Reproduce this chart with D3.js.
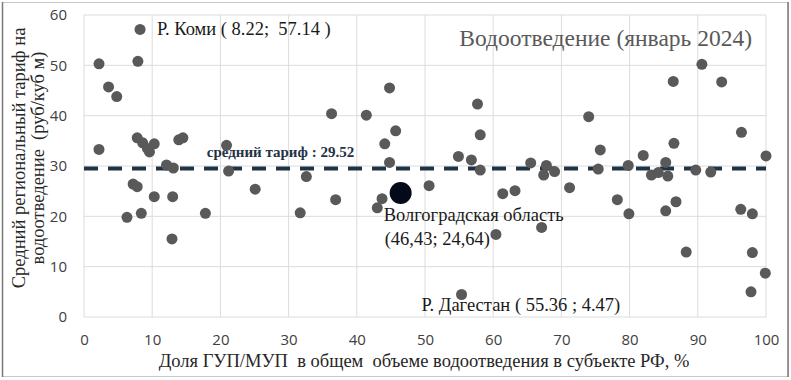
<!DOCTYPE html>
<html>
<head>
<meta charset="utf-8">
<script src="https://cdn.jsdelivr.net/npm/d3@7"></script>
<style>
  body { margin: 0; background: #fff; }
  svg { display: block; }
</style>
</head>
<body>
<div id="chart"></div>
<script>
// Share of state/municipal utilities (x, %) vs average regional tariff (y, rub/m3)
const shareGup = [2.2, 3.6, 4.8, 8.22, 7.9, 2.2, 7.8, 8.6, 9.3, 9.6, 10.3, 13.9, 14.5, 12.1, 13.1,
  20.9, 21.2, 25.1, 7.2, 7.8, 10.3, 13.0, 6.3, 8.4, 17.8, 12.9, 44.8, 36.3, 41.4, 45.7, 44.1,
  44.8, 32.6, 57.7, 58.1, 54.9, 56.8, 58.1, 50.6, 65.5, 55.36, 43.7, 43.0, 36.9, 31.7, 60.4,
  61.4, 63.2, 74.0, 75.7, 75.4, 71.2, 67.8, 67.4, 69.0, 79.8, 82.0, 83.2, 84.2, 85.3, 85.6,
  86.5, 86.4, 90.6, 93.5, 96.4, 89.7, 91.9, 100, 78.2, 79.9, 67.1, 85.3, 86.8, 88.3, 96.3,
  98.0, 98.0, 99.9, 97.8];
const tariff = [50.3, 45.7, 43.8, 57.14, 50.8, 33.3, 35.6, 34.6, 33.5, 32.8, 34.4, 35.2, 35.6, 30.2, 29.6,
  34.1, 29.0, 25.4, 26.4, 25.9, 23.9, 23.9, 19.8, 20.6, 20.6, 15.5, 45.5, 40.4, 40.1, 37.0, 34.4,
  30.7, 27.9, 42.3, 36.2, 31.9, 31.2, 29.2, 26.1, 30.6, 4.47, 23.5, 21.7, 23.3, 20.7, 16.4,
  24.5, 25.1, 39.8, 33.2, 29.4, 25.7, 30.1, 28.2, 28.9, 30.1, 32.1, 28.2, 28.7, 30.7, 28.0,
  34.5, 46.8, 50.2, 46.7, 36.7, 29.2, 28.8, 32.0, 23.3, 20.5, 17.8, 21.1, 22.9, 12.9, 21.4,
  20.5, 12.8, 8.7, 5.0];

const highlight = { name: "Волгоградская область", x: 46.43, y: 24.64, label: "(46,43; 24,64)" };
const meanTariff = 29.52;

const xTicks = [0, 10, 20, 30, 40, 50, 60, 70, 80, 90, 100];
const yTicks = [0, 10, 20, 30, 40, 50, 60];

const points = shareGup.map((x, i) => ({ x, y: tariff[i] }));

const width = 791, height = 380;
const margin = { top: 15, right: 25, bottom: 63, left: 84 };
const serif = "'Liberation Serif', 'Times New Roman', serif";
const sans = "'Open Sans', 'Liberation Sans', sans-serif";

const svg = d3.select("#chart").append("svg")
  .attr("width", width)
  .attr("height", height);

// outer frame
svg.append("rect")
  .attr("x", 2.5).attr("y", 2.5)
  .attr("width", width - 5).attr("height", height - 6)
  .attr("fill", "#fff")
  .attr("stroke", "#c8c8c8");
svg.append("line").attr("x1", 2.5).attr("x2", 2.5).attr("y1", 2).attr("y2", height - 3)
  .attr("stroke", "#7a7a7a").attr("stroke-width", 1.5);
svg.append("line").attr("x1", width - 3).attr("x2", width - 3).attr("y1", 2).attr("y2", height - 3)
  .attr("stroke", "#7a7a7a").attr("stroke-width", 1.5);

const x = d3.scaleLinear().domain([0, 100]).range([margin.left, width - margin.right]);
const y = d3.scaleLinear().domain([0, 60]).range([height - margin.bottom, margin.top]);

// gridlines
svg.append("g")
  .selectAll("line.vgrid")
  .data(xTicks)
  .enter().append("line")
  .attr("x1", d => x(d)).attr("x2", d => x(d))
  .attr("y1", y(0)).attr("y2", y(60))
  .attr("stroke", "#dcdcdc").attr("stroke-width", 1);

svg.append("g")
  .selectAll("line.hgrid")
  .data(yTicks)
  .enter().append("line")
  .attr("x1", x(0)).attr("x2", x(100))
  .attr("y1", d => y(d)).attr("y2", d => y(d))
  .attr("stroke", "#dcdcdc").attr("stroke-width", 1);

// axes (labels only)
const xAxis = svg.append("g")
  .attr("transform", `translate(0,${y(0) + 12})`)
  .call(d3.axisBottom(x).tickValues(xTicks).tickSize(0).tickPadding(5));
const yAxis = svg.append("g")
  .attr("transform", `translate(${x(0) - 14},0)`)
  .call(d3.axisLeft(y).tickValues(yTicks).tickSize(0).tickPadding(3));
[xAxis, yAxis].forEach(a => {
  a.select(".domain").remove();
  a.selectAll("text")
    .style("font-family", sans)
    .style("font-size", "15px")
    .attr("fill", "#404040");
});

// mean line
svg.append("line")
  .attr("x1", x(0)).attr("x2", x(100))
  .attr("y1", y(meanTariff)).attr("y2", y(meanTariff))
  .attr("stroke", "#1f3347")
  .attr("stroke-width", 4)
  .attr("stroke-dasharray", "14,10");

svg.append("text")
  .attr("x", x(18))
  .attr("y", y(meanTariff) - 11)
  .style("font-family", serif)
  .style("font-size", "15px")
  .style("font-weight", "bold")
  .attr("fill", "#1f3347")
  .text("средний тариф : " + meanTariff.toFixed(2));

// points
svg.append("g")
  .selectAll("circle")
  .data(points)
  .enter().append("circle")
  .attr("cx", d => x(d.x))
  .attr("cy", d => y(d.y))
  .attr("r", 5.5)
  .attr("fill", "#595959");

svg.append("circle")
  .attr("cx", x(highlight.x))
  .attr("cy", y(highlight.y))
  .attr("r", 11)
  .attr("fill", "#050a18");

// annotations
const ann = svg.append("g")
  .style("font-family", serif)
  .style("font-size", "18.5px")
  .attr("fill", "#1a1a1a");

ann.append("text")
  .attr("x", x(8.22) + 17).attr("y", y(57.14) + 6)
  .attr("xml:space", "preserve")
  .text("Р. Коми ( 8.22;  57.14 )");

ann.append("text")
  .attr("x", x(highlight.x) - 17).attr("y", y(highlight.y) + 28)
  .text(highlight.name);
ann.append("text")
  .attr("x", x(highlight.x) - 16).attr("y", y(highlight.y) + 52)
  .text(highlight.label);

ann.append("text")
  .attr("x", x(55.36) - 40).attr("y", y(4.47) + 16)
  .text("Р. Дагестан ( 55.36 ; 4.47)");

// title
svg.append("text")
  .attr("x", x(100) - 14).attr("y", 46)
  .attr("text-anchor", "end")
  .style("font-family", serif)
  .style("font-size", "23.5px")
  .attr("fill", "#595959")
  .text("Водоотведение (январь 2024)");

// axis titles
svg.append("text")
  .attr("x", 424).attr("y", 367)
  .attr("text-anchor", "middle")
  .attr("xml:space", "preserve")
  .style("font-family", serif)
  .style("font-size", "18.5px")
  .attr("fill", "#262626")
  .text("Доля ГУП/МУП  в общем  объеме водоотведения в субъекте РФ, %");

const yTitle = svg.append("text")
  .attr("transform", "translate(0,158) rotate(-90)")
  .attr("text-anchor", "middle")
  .attr("xml:space", "preserve")
  .style("font-family", serif)
  .style("font-size", "18.5px")
  .attr("fill", "#262626");
yTitle.append("tspan").attr("x", 0).attr("y", 25).text("Средний региональный тариф на");
yTitle.append("tspan").attr("x", 0).attr("y", 44).text("водоотведение  (руб/куб м)");
</script>
</body>
</html>
